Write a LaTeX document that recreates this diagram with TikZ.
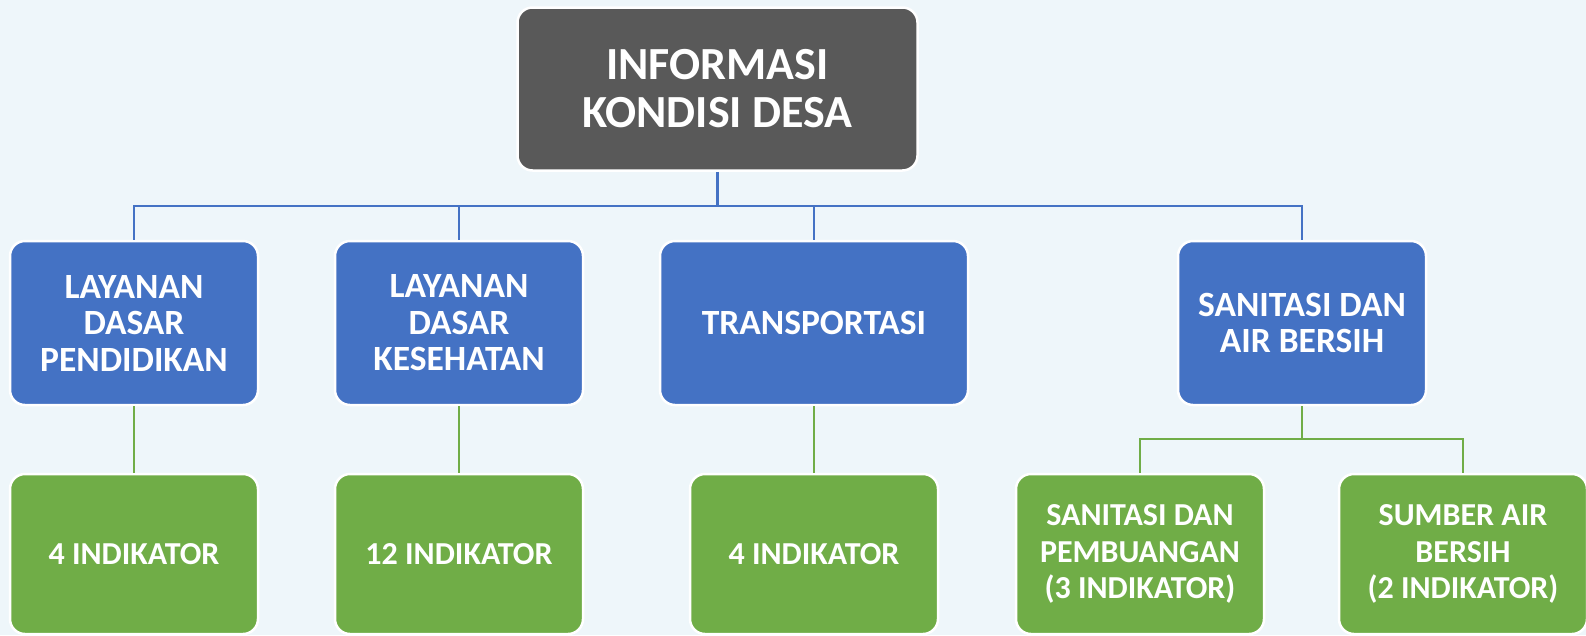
\documentclass[tikz,border=0pt]{standalone}
\usepackage{fontspec}
\setmainfont{Carlito}
\definecolor{bgc}{HTML}{EEF6FA}
\definecolor{topc}{HTML}{595959}
\definecolor{bluec}{HTML}{4472C4}
\definecolor{greenc}{HTML}{70AD47}
\tikzset{
  box/.style={rectangle, rounded corners=15pt, draw=white, line width=2.5pt,
    text=white, align=center, font=\bfseries\fontsize{32}{36.5}\selectfont, inner sep=0pt},
  topbox/.style={box, fill=topc, minimum width=400pt, minimum height=163pt,
    font=\bfseries\fontsize{46}{48}\selectfont},
  bluebox/.style={box, fill=bluec, minimum width=248pt, minimum height=164pt,
    font=\bfseries\fontsize{35.5}{36.5}\selectfont},
  greenbox/.style={box, fill=greenc, minimum width=248pt, minimum height=160pt},
  blueline/.style={draw=bluec, line width=2.5pt},
  greenline/.style={draw=greenc, line width=2.5pt}
}
\begin{document}
\begin{tikzpicture}[x=1pt,y=-1pt]
\fill[bgc] (0,0) rectangle (1586,635);
\useasboundingbox (0,0) rectangle (1586,635);
\coordinate (busY) at (0,206);
\coordinate (gbusY) at (0,439);
\node[topbox] (top) at (717.5,89) {INFORMASI\\KONDISI DESA};
\node[bluebox] (b1) at (134,323) {LAYANAN\\DASAR\\PENDIDIKAN};
\node[bluebox] (b2) at (459,323) {LAYANAN\\DASAR\\KESEHATAN};
\node[bluebox, minimum width=308pt] (b3) at (814,323) {TRANSPORTASI};
\node[bluebox] (b4) at (1302,323) {SANITASI DAN\\AIR BERSIH};
\node[greenbox] (g1) at (134,554) {4 INDIKATOR};
\node[greenbox] (g2) at (459,554) {12 INDIKATOR};
\node[greenbox] (g3) at (814,554) {4 INDIKATOR};
\node[greenbox] (g4) at (1140,554) {SANITASI DAN\\PEMBUANGAN\\(3 INDIKATOR)};
\node[greenbox] (g5) at (1463,554) {SUMBER AIR\\BERSIH\\(2 INDIKATOR)};
\draw[blueline] (top.south) -- (top.south |- busY);
\draw[blueline] (b1.north) -- (b1.north |- busY) -| (b4.north);
\draw[blueline] (b2.north) -- (b2.north |- busY);
\draw[blueline] (b3.north) -- (b3.north |- busY);
\draw[greenline] (b1.south) -- (g1.north);
\draw[greenline] (b2.south) -- (g2.north);
\draw[greenline] (b3.south) -- (g3.north);
\draw[greenline] (b4.south) -- (b4.south |- gbusY);
\draw[greenline] (g4.north) -- (g4.north |- gbusY) -| (g5.north);
\end{tikzpicture}
\end{document}
